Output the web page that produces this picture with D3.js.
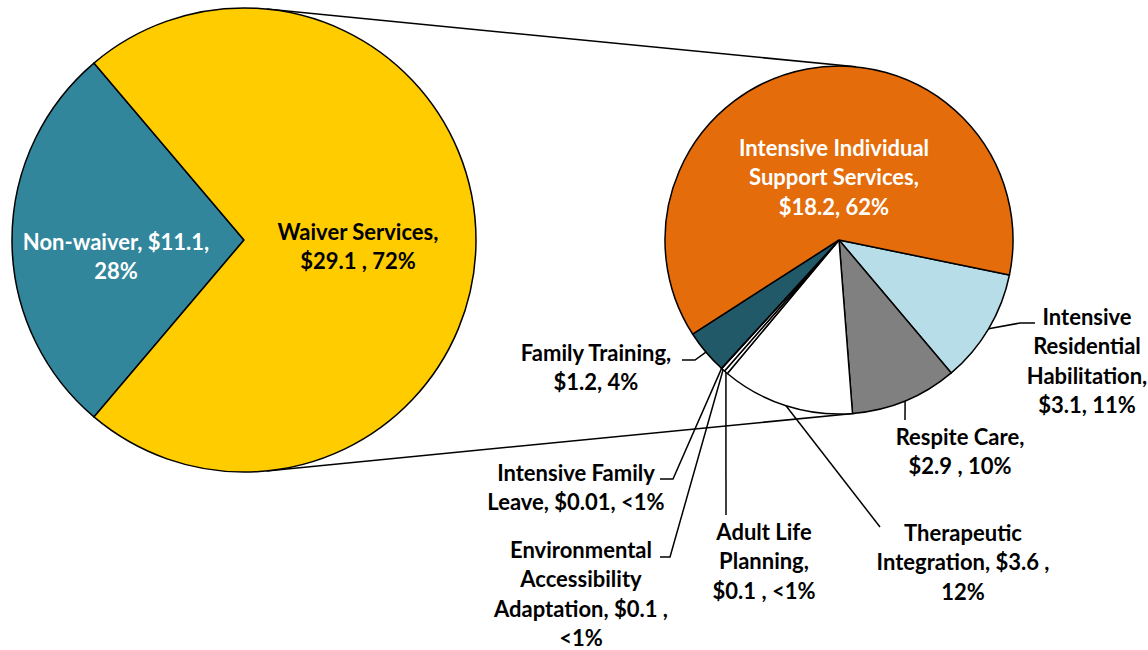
<!DOCTYPE html>
<html>
<head>
<meta charset="utf-8">
<script src="https://cdn.jsdelivr.net/npm/d3@7"></script>
<style>
  body { margin: 0; background: #fff; }
  text { font-family: Lato, "Open Sans", sans-serif; font-weight: bold; }
</style>
</head>
<body>
<div id="chart"></div>
<script>
// primary pie
var primaryNames = ["Non-waiver", "Waiver Services"];
var primaryValues = [11.1, 29.1];
var primaryColors = ["#31869B", "#FFCC00"];
var primaryLabels = [["Non-waiver, $11.1,", "28%"], ["Waiver Services,", "$29.1 , 72%"]];

// secondary pie (breakdown of waiver services)
var secondaryNames = ["Intensive Residential Habilitation", "Respite Care", "Therapeutic Integration",
  "Adult Life Planning", "Environmental Accessibility Adaptation", "Intensive Family Leave",
  "Family Training", "Intensive Individual Support Services"];
var secondaryValues = [3.1, 2.9, 3.6, 0.1, 0.1, 0.01, 1.2, 18.2];
var secondaryColors = ["#B7DEE8", "#808080", "#FFFFFF", "#FFFFFF", "#FFFFFF", "#FFFFFF", "#215968", "#E46C0A"];
var secondaryLabels = [
  ["Intensive", "Residential", "Habilitation,", "$3.1, 11%"],
  ["Respite Care,", "$2.9 , 10%"],
  ["Therapeutic", "Integration, $3.6 ,", "12%"],
  ["Adult Life", "Planning,", "$0.1 , <1%"],
  ["Environmental", "Accessibility", "Adaptation, $0.1 ,", "<1%"],
  ["Intensive Family", "Leave, $0.01, <1%"],
  ["Family Training,", "$1.2, 4%"],
  ["Intensive Individual", "Support Services,", "$18.2, 62%"]
];

var width = 1148, height = 650;
var lineH = 29.5;

var svg = d3.select("#chart").append("svg")
    .attr("width", width)
    .attr("height", height);

var c1 = {x: 244, y: 240, r: 232};
var c2 = {x: 839, y: 240, r: 174};
var deg = Math.PI / 180;

// connector lines = outer tangents of both circles
var dx = c2.x - c1.x, dy = c2.y - c1.y;
var dist = Math.sqrt(dx * dx + dy * dy);
var phi = Math.atan2(dy, dx);
var beta = Math.acos((c1.r - c2.r) / dist);
[-1, 1].forEach(function(s) {
  var a = phi + s * beta;
  svg.append("line")
    .attr("x1", c1.x + c1.r * Math.cos(a)).attr("y1", c1.y + c1.r * Math.sin(a))
    .attr("x2", c2.x + c2.r * Math.cos(a)).attr("y2", c2.y + c2.r * Math.sin(a))
    .attr("stroke", "#000").attr("stroke-width", 1.5);
});

// primary pie, non-waiver centred on the left side
var nwSpan = primaryValues[0] / d3.sum(primaryValues) * 2 * Math.PI;
var pie1 = d3.pie().sort(null).startAngle(1.5 * Math.PI - nwSpan / 2).endAngle(3.5 * Math.PI - nwSpan / 2);
var arc1 = d3.arc().innerRadius(0).outerRadius(c1.r);
var g1 = svg.append("g").attr("transform", "translate(" + c1.x + "," + c1.y + ")");
g1.selectAll("path")
  .data(pie1(primaryValues))
  .enter().append("path")
    .attr("d", arc1)
    .attr("fill", function(d, i) { return primaryColors[i]; })
    .attr("stroke", "#000")
    .attr("stroke-width", 1.5)
    .attr("stroke-linejoin", "round");

// secondary pie
var start2 = 101.6 * deg;
var pie2 = d3.pie().sort(null).startAngle(start2).endAngle(start2 + 2 * Math.PI);
var arc2 = d3.arc().innerRadius(0).outerRadius(c2.r);
var arcs2 = pie2(secondaryValues);
var g2 = svg.append("g").attr("transform", "translate(" + c2.x + "," + c2.y + ")");
g2.selectAll("path")
  .data(arcs2)
  .enter().append("path")
    .attr("d", arc2)
    .attr("fill", function(d, i) { return secondaryColors[i]; })
    .attr("stroke", "#000")
    .attr("stroke-width", 1.5)
    .attr("stroke-linejoin", "round");

// label layout: text centre x, first line centre y, text colour, leader bends (relative to page)
var layout1 = [
  {x: 116, y: 242, fill: "#fff"},
  {x: 358, y: 232, fill: "#000"}
];
var layout2 = [
  {x: 1087, y: 317, fill: "#000", leader: [[1020, 323], [1035, 323]]},
  {x: 960, y: 437, fill: "#000", leader: [[905, 420]]},
  {x: 963, y: 533, fill: "#000", leader: [[880, 527]]},
  {x: 764, y: 532, fill: "#000", leader: [[726, 515]]},
  {x: 581, y: 550, fill: "#000", leader: [[670, 557], [660, 557]]},
  {x: 576, y: 473, fill: "#000", leader: [[673, 479], [660, 479]]},
  {x: 596, y: 353, fill: "#000", leader: [[695, 360], [682, 360]]},
  {x: 834, y: 148, fill: "#fff"}
];

function drawLabel(lines, pos) {
  var t = svg.append("text")
    .attr("text-anchor", "middle")
    .attr("font-size", 22)
    .attr("fill", pos.fill);
  lines.forEach(function(s, i) {
    t.append("tspan")
      .attr("x", pos.x)
      .attr("y", pos.y + i * lineH)
      .attr("dy", "0.35em")
      .text(s);
  });
}

primaryLabels.forEach(function(l, i) { drawLabel(l, layout1[i]); });

arcs2.forEach(function(d, i) {
  var pos = layout2[i];
  if (pos.leader) {
    var mid = (d.startAngle + d.endAngle) / 2;
    var pts = [[c2.x + c2.r * Math.sin(mid), c2.y - c2.r * Math.cos(mid)]].concat(pos.leader);
    svg.append("path")
      .attr("d", d3.line()(pts))
      .attr("fill", "none")
      .attr("stroke", "#000")
      .attr("stroke-width", 1.5);
  }
  drawLabel(secondaryLabels[i], pos);
});
</script>
</body>
</html>
